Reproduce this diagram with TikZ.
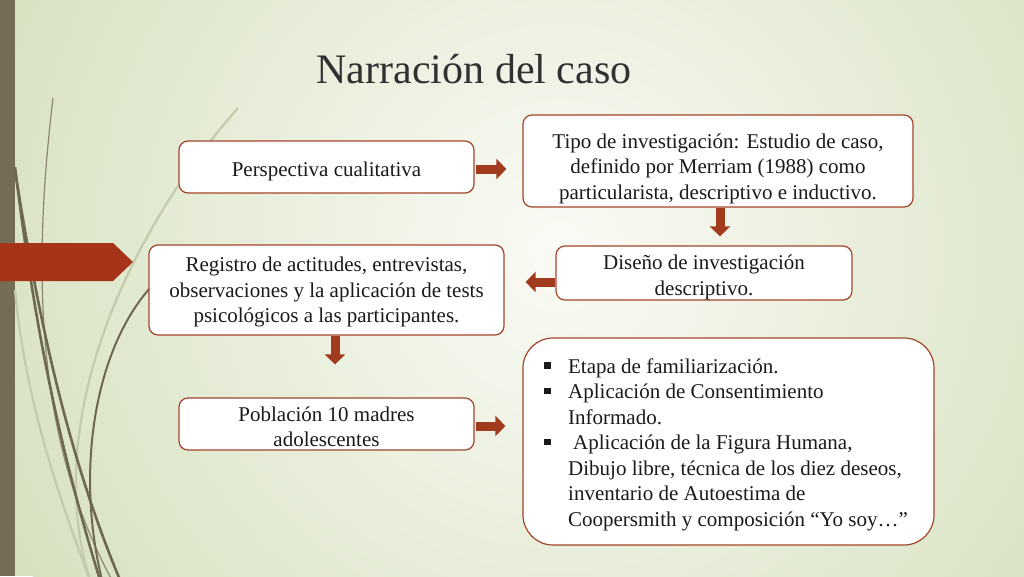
\documentclass[tikz,border=0pt]{standalone}
\usepackage{fontspec}
\setmainfont{Liberation Serif}
\usetikzlibrary{arrows.meta}
\definecolor{boxline}{HTML}{A3452A}
\definecolor{arrowred}{HTML}{A23A1E}
\definecolor{leftred}{HTML}{A63418}
\definecolor{barcol}{HTML}{756C55}
\definecolor{curvedark}{HTML}{6F6850}
\definecolor{curvelight}{HTML}{C3CAAE}
\definecolor{bgin}{HTML}{FAFBF5}
\definecolor{bgout}{HTML}{D7E1C1}
\definecolor{txt}{HTML}{1A1A1A}
\newcommand{\sqb}{\makebox[24pt][l]{\raisebox{4.5pt}{\rule{6.5pt}{6.5pt}}}}
\newcommand{\lw}[1]{\rule{0pt}{#1}}
\begin{document}
\begin{tikzpicture}[x=1pt,y=-1pt,
  box/.style={draw=boxline, line width=1.2pt, fill=white, rounded corners=9pt,
    align=center, inner sep=0pt, text=txt, font=\fontsize{21}{25.5}\selectfont},
  blockarrow/.style={draw=arrowred, line width=9pt,
    -{Triangle[length=10pt,width=20pt]}},
  curvethick/.style={draw=curvedark, line width=2.6pt},
  curvemed/.style={draw=curvedark, line width=2pt},
  curvethin/.style={draw=curvedark!80, line width=1.2pt},
  curvefaint/.style={draw=curvelight, line width=2.2pt},
]
\useasboundingbox (0,0) rectangle (1024,576);
% background
\fill[bgout] (0,0) rectangle (1024,576);
\begin{scope}
  \clip (0,0) rectangle (1024,576);
  \shade[inner color=bgin, outer color=bgout] (560,250) circle (620);
\end{scope}
% left bar
\fill[barcol] (0,0) rectangle (15,576);
% decorative curves
\begin{scope}
  \clip (0,0) rectangle (1024,576);
  \draw[curvefaint] (238,108) .. controls (130,230) and (40,420) .. (90,580);
  \draw[curvefaint] (15,290) .. controls (25,400) and (60,500) .. (90,580);
  \draw[curvethin] (53,98) .. controls (35,250) and (30,430) .. (112,580);
  \draw[curvethick] (15,167) .. controls (35,330) and (60,450) .. (100,580);
  \draw[curvethick] (15,170) .. controls (40,330) and (70,460) .. (120,580);
  \draw[curvemed] (150,288) .. controls (95,350) and (75,470) .. (102,580);
\end{scope}
% left red arrow
\fill[leftred] (0,243) -- (113,243) -- (133,262) -- (113,281) -- (0,281) -- cycle;
% title
\node[anchor=base, text=txt!90, font=\rmfamily\fontsize{42}{48}\selectfont] (title) at (474,83) {Narración del caso};
% boxes
\node[box, minimum width=295pt, minimum height=52pt] (persp) at (326.5,167)
  {\lw{24pt}Perspectiva cualitativa};
\node[box, minimum width=390pt, minimum height=92pt] (tipo) at (718,161)
  {\lw{29.5pt}Tipo de investigación: Estudio de caso,\\definido por Merriam (1988) como\\particularista, descriptivo e inductivo.};
\node[box, minimum width=296pt, minimum height=54pt] (diseno) at (704,273)
  {\lw{23.5pt}Diseño de investigación\\descriptivo.};
\node[box, minimum width=355pt, minimum height=90pt] (registro) at (326.5,290)
  {\lw{19.5pt}Registro de actitudes, entrevistas,\\observaciones y la aplicación de tests\\psicológicos a las participantes.};
\node[box, minimum width=295pt, minimum height=52pt] (poblacion) at (326.5,424)
  {\lw{20.5pt}Población 10 madres\\adolescentes};
\node[box, align=left, rounded corners=30pt, minimum width=411pt, minimum height=207pt] (tecnicas) at (728.5,441.5)
  {\lw{21.5pt}\sqb Etapa de familiarización.\\
   \sqb Aplicación de Consentimiento\\
   \hspace*{24pt}Informado.\\
   \sqb\hspace{5pt}Aplicación de la Figura Humana,\\
   \hspace*{24pt}Dibujo libre, técnica de los diez deseos,\\
   \hspace*{24pt}inventario de Autoestima de\\
   \hspace*{24pt}Coopersmith y composición “Yo soy…”\hspace*{5pt}};
% connectors
\draw[blockarrow, shorten <=1pt, shorten >=16pt] ([yshift=-2pt]persp.east) -- ([yshift=-2pt]persp.east -| tipo.west);
\draw[blockarrow, shorten >=9pt] ([xshift=2pt]tipo.south) -- ([xshift=2pt]tipo.south |- diseno.north);
\draw[blockarrow, shorten >=21pt] ([yshift=-9pt]diseno.west) -- ([yshift=-9pt]diseno.west -| registro.east);
\draw[blockarrow, shorten >=33pt] ([xshift=8.5pt]registro.south) -- ([xshift=8.5pt]registro.south |- poblacion.north);
\draw[blockarrow, shorten <=1pt, shorten >=17pt] ([yshift=-2pt]poblacion.east) -- ([yshift=-2pt]poblacion.east -| tecnicas.west);
\end{tikzpicture}
\end{document}
